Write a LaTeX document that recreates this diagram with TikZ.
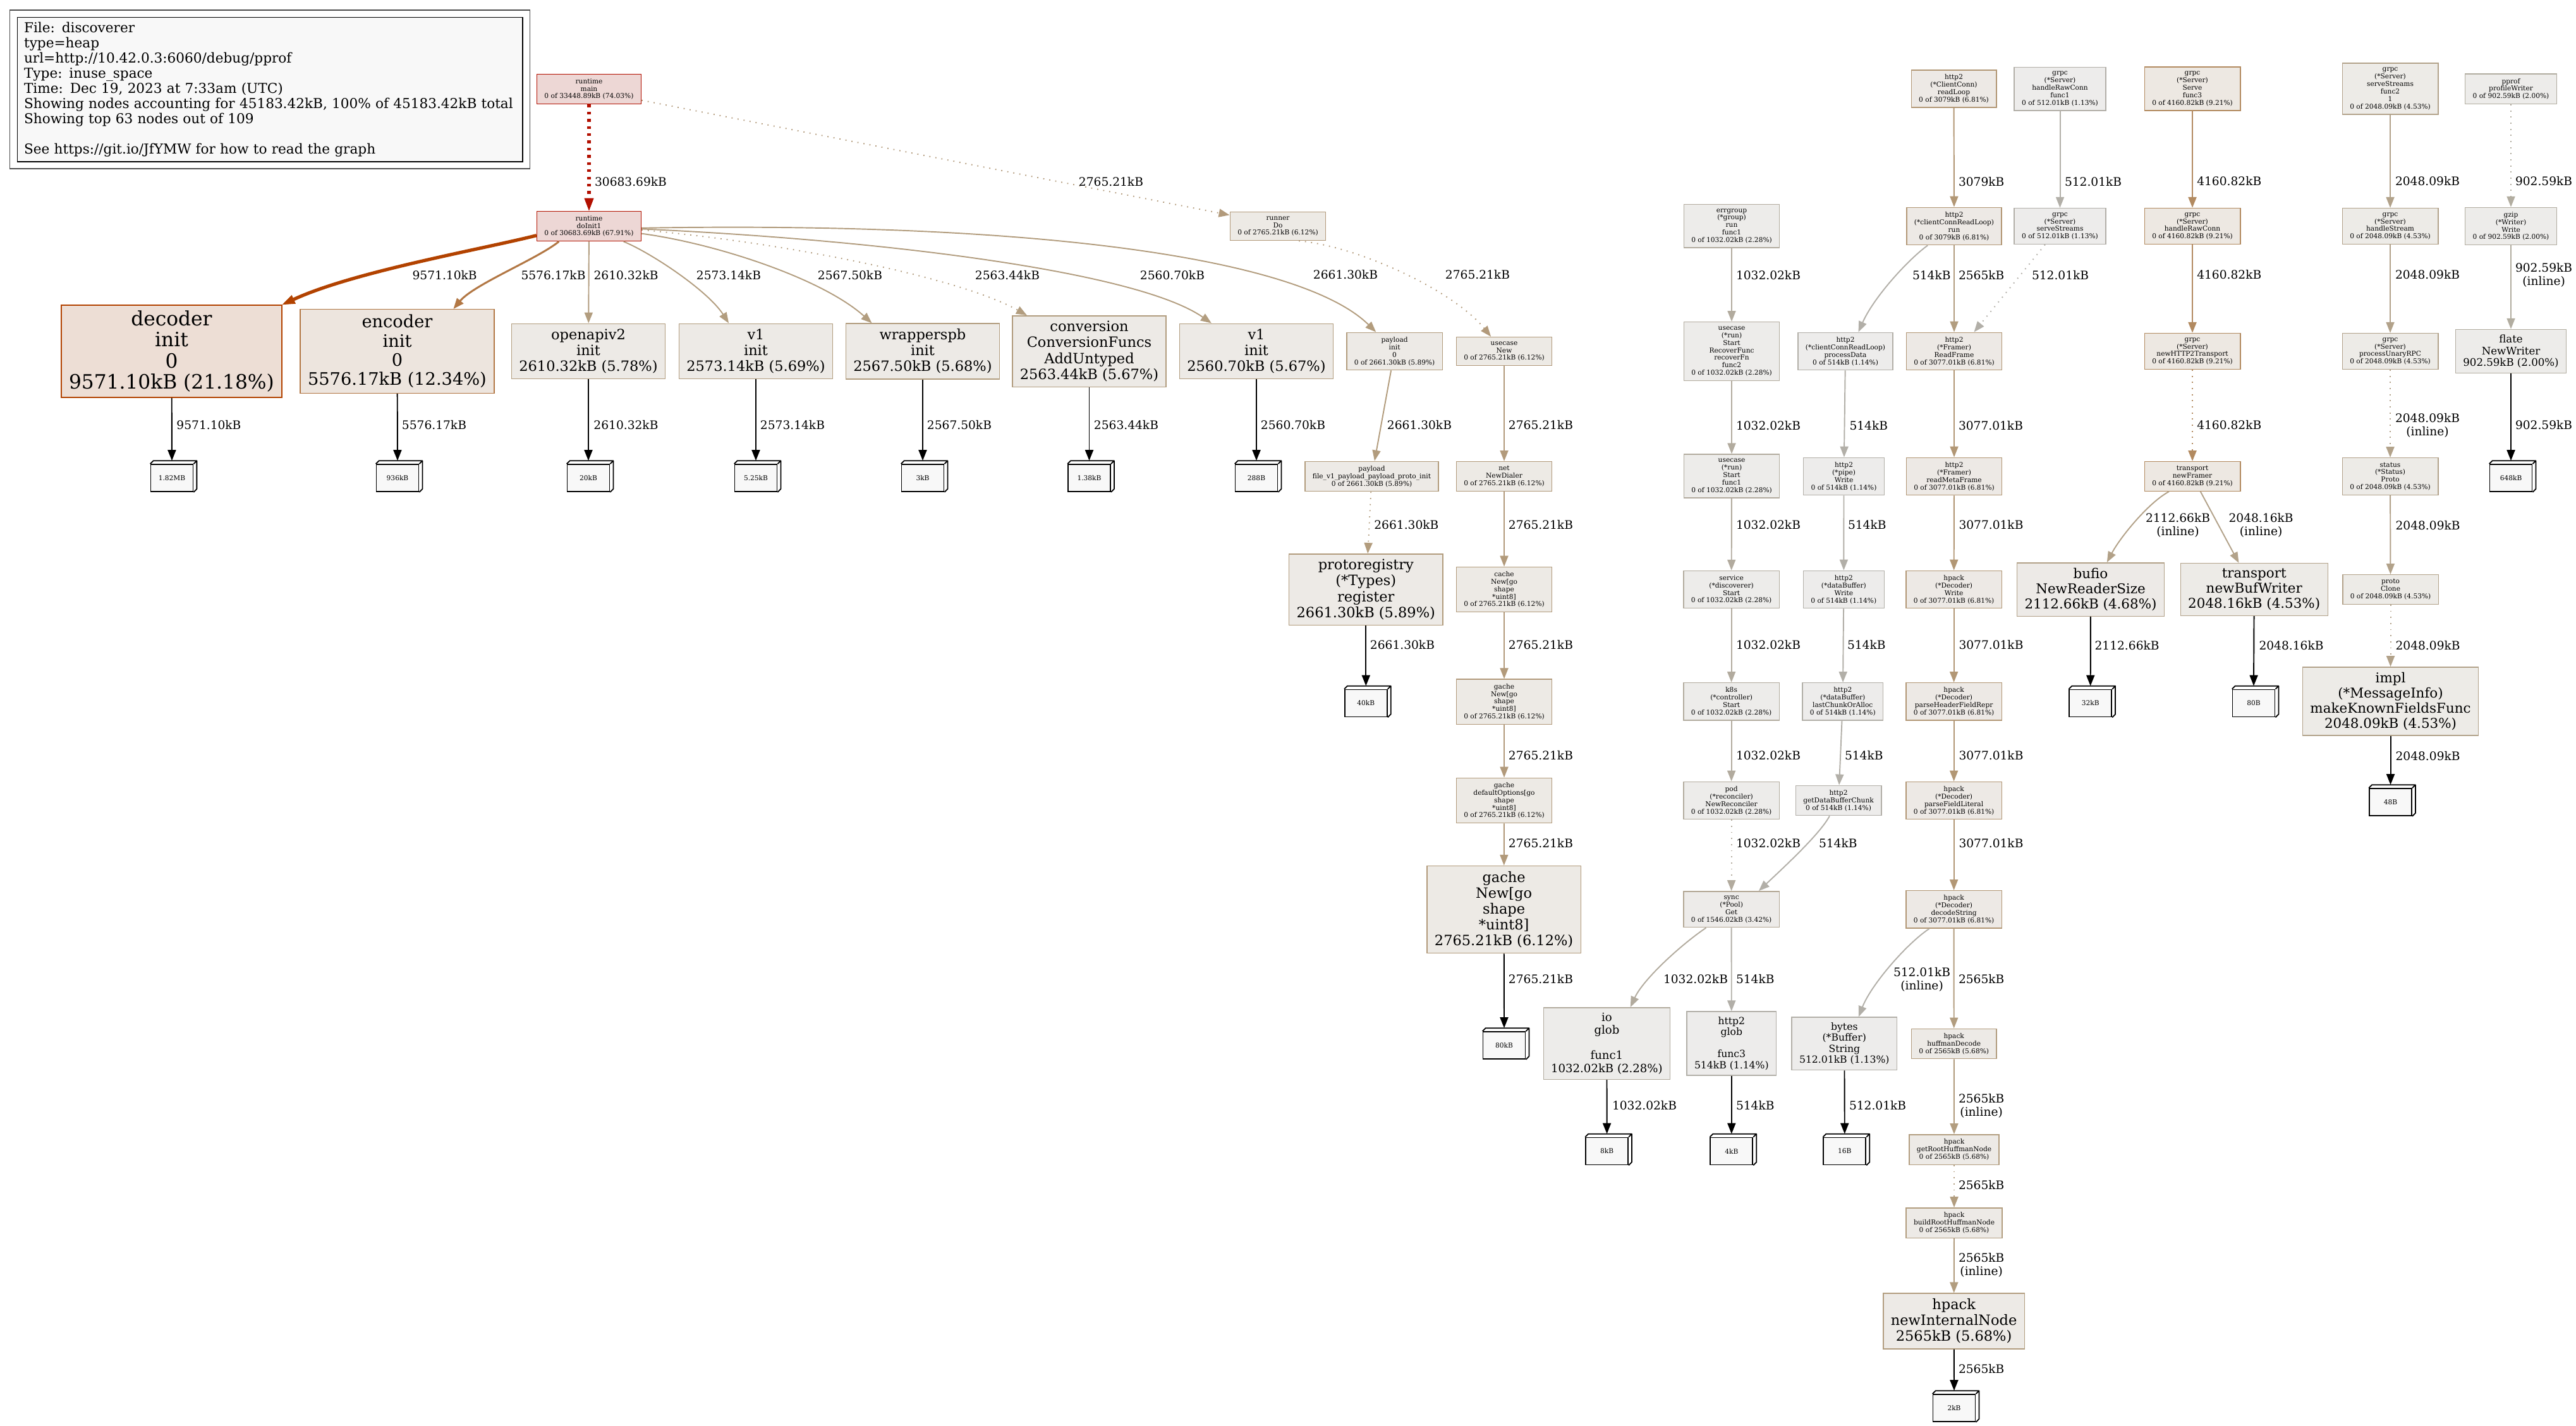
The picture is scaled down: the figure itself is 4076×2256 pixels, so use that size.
\documentclass[tikz,border=0pt]{standalone}
\usepackage{fontspec}
\setmainfont{DejaVu Serif}
\usetikzlibrary{arrows.meta, positioning, calc}

\newcommand{\szSmall}{\fontsize{6.05}{6.75}\selectfont}
\newcommand{\szLbl}{\fontsize{10.6}{11.85}\selectfont}
\newcommand{\szLegend}{\fontsize{12.3}{13.7}\selectfont}
\newcommand{\szDec}{\fontsize{17.8}{19.1}\selectfont}
\newcommand{\szEnc}{\fontsize{15.5}{17.2}\selectfont}
\newcommand{\szBig}{\fontsize{12.8}{14.3}\selectfont}
\newcommand{\szMid}{\fontsize{12.2}{13.6}\selectfont}
\newcommand{\szIo}{\fontsize{10.3}{11.45}\selectfont}
\newcommand{\szFlate}{\fontsize{9.45}{10.5}\selectfont}
\newcommand{\szTiny}{\fontsize{8.9}{9.9}\selectfont}

\definecolor{cMain}{HTML}{B20F00}
\definecolor{fMain}{HTML}{EDD7D5}
\definecolor{cInit}{HTML}{B21300}
\definecolor{cDec}{HTML}{B24200}
\definecolor{fDec}{HTML}{EDDED5}
\definecolor{cEnc}{HTML}{B27744}
\definecolor{fEnc}{HTML}{EDE5DE}
\definecolor{c921}{HTML}{B28A60}
\definecolor{f921}{HTML}{EDE8E2}
\definecolor{c681}{HTML}{B29775}
\definecolor{f681}{HTML}{EDE9E5}
\definecolor{c612}{HTML}{B29A7B}
\definecolor{f612}{HTML}{EDEAE5}
\definecolor{c589}{HTML}{B29C7D}
\definecolor{c57}{HTML}{B29D7F}
\definecolor{f57}{HTML}{EDEAE6}
\definecolor{c468}{HTML}{B2A188}
\definecolor{f468}{HTML}{EDEAE7}
\definecolor{c453}{HTML}{B2A28A}
\definecolor{f453}{HTML}{EDEBE7}
\definecolor{c342}{HTML}{B2A794}
\definecolor{f342}{HTML}{EDEBE9}
\definecolor{c228}{HTML}{B2AB9E}
\definecolor{f228}{HTML}{EDECEA}
\definecolor{c200}{HTML}{B2ADA0}
\definecolor{c114}{HTML}{B2AFA8}
\definecolor{f114}{HTML}{EDECEB}
\definecolor{leafbg}{HTML}{F8F8F8}
\definecolor{legendbg}{HTML}{F8F8F8}
\definecolor{legendframe}{HTML}{4D4D4D}

\tikzset{
  fn/.style={
    rectangle,
    draw,
    align=center,
    inner xsep=0.24cm,
    inner ysep=0.14cm,
    line width=0.8pt,
    font=\szSmall
  },
  fnbig/.style={fn, inner ysep=0.17cm},
  wMain/.style={draw=cMain, fill=fMain},
  wInit/.style={draw=cInit, fill=fMain},
  wDec/.style={draw=cDec, fill=fDec},
  wEnc/.style={draw=cEnc, fill=fEnc},
  w921/.style={draw=c921, fill=f921},
  w681/.style={draw=c681, fill=f681},
  w612/.style={draw=c612, fill=f612},
  w589/.style={draw=c589, fill=f57},
  w57/.style={draw=c57, fill=f57},
  w468/.style={draw=c468, fill=f468},
  w453/.style={draw=c453, fill=f453},
  w342/.style={draw=c342, fill=f342},
  w228/.style={draw=c228, fill=f228},
  w200/.style={draw=c200, fill=f228},
  w114/.style={draw=c114, fill=f114},
  leaf/.style={
    rectangle,
    draw=black,
    fill=leafbg,
    line width=1pt,
    minimum width=1.34cm,
    minimum height=0.86cm,
    inner sep=0pt,
    font=\szSmall,
    append after command={\pgfextra{\draw[line width=1pt, line join=round]
      (\tikzlastnode.north west) -- ++(0.1cm,0.1cm)
      -- ([shift={(0.1cm,0.1cm)}]\tikzlastnode.north east)
      -- ([shift={(0.1cm,0.1cm)}]\tikzlastnode.south east)
      -- (\tikzlastnode.south east)
      (\tikzlastnode.north east) -- ++(0.1cm,0.1cm);}}
  },
  arrow/.style={-{Triangle[length=0.34cm, width=0.26cm]}, line width=1.1pt},
  dotarrow/.style={arrow, dash pattern=on 1pt off 4.5pt},
  leafarrow/.style={arrow, draw=black},
  lbl/.style={anchor=west, inner sep=0pt, align=center, font=\szLbl}
}

\begin{document}
\begin{tikzpicture}[x=0.02cm, y=-0.02cm]
  \useasboundingbox (0,0) rectangle (4076,2256);

  \node[draw=black, fill=legendbg, line width=1pt, anchor=north west,
        minimum width=15.99cm, minimum height=4.57cm, text width=15.57cm,
        inner xsep=0.21cm, align=left, font=\szLegend] (legend) at (26.7,26.7)
  {File: discoverer\\
   type=heap\\
   url=http://10.42.0.3:6060/debug/pprof\\
   Type: inuse\_space\\
   Time: Dec 19, 2023 at 7:33am (UTC)\\
   Showing nodes accounting for 45183.42kB, 100\% of 45183.42kB total\\
   Showing top 63 nodes out of 109\\
   \mbox{}\\
   See https://git.io/JfYMW for how to read the graph};
  \draw[draw=legendframe, line width=1pt]
    ([shift={(-0.226cm,0.22cm)}]legend.north west) rectangle ([shift={(0.212cm,-0.2cm)}]legend.south east);

  \node[fn, wMain] (main) at (932,141) {runtime\\main\\0 of 33448.89kB (74.03\%)};
  \node[fn, wInit] (doinit) at (932,358) {runtime\\doInit1\\0 of 30683.69kB (67.91\%)};
  \node[fn, w612] (runner) at (2022,358) {runner\\Do\\0 of 2765.21kB (6.12\%)};

  \node[fnbig, wDec, font=\szDec] (decoder) at (271.5,556) {decoder\\init\\0\\9571.10kB (21.18\%)};
  \node[fnbig, wEnc, font=\szEnc] (encoder) at (628.5,556) {encoder\\init\\0\\5576.17kB (12.34\%)};
  \node[fnbig, w57, font=\szBig] (openapi) at (931,556) {openapiv2\\init\\2610.32kB (5.78\%)};
  \node[fnbig, w57, font=\szBig] (vonea) at (1196,556) {v1\\init\\2573.14kB (5.69\%)};
  \node[fnbig, w57, font=\szBig] (wrappers) at (1460,556) {wrapperspb\\init\\2567.50kB (5.68\%)};
  \node[fnbig, w57, font=\szBig] (conversion) at (1723.5,556) {conversion\\ConversionFuncs\\AddUntyped\\2563.44kB (5.67\%)};
  \node[fnbig, w57, font=\szBig] (voneb) at (1988,556) {v1\\init\\2560.70kB (5.67\%)};
  \node[fn, w589] (payloadinit) at (2206.6,556) {payload\\init\\0\\0 of 2661.30kB (5.89\%)};
  \node[fn, w612] (usecasenew) at (2380,556) {usecase\\New\\0 of 2765.21kB (6.12\%)};

  \node[leaf] (lfdec) at (272,756.5) {1.82MB};
  \node[leaf] (lfenc) at (629,756.5) {936kB};
  \node[leaf] (lfopen) at (931,756.5) {20kB};
  \node[leaf] (lfvonea) at (1196,756.5) {5.25kB};
  \node[leaf] (lfwrap) at (1460,756.5) {3kB};
  \node[leaf] (lfconv) at (1723.5,756.5) {1.38kB};
  \node[leaf] (lfvoneb) at (1988,756.5) {288B};

  \node[fn, w589] (payloadfile) at (2170.5,754) {payload\\file\_v1\_payload\_payload\_proto\_init\\0 of 2661.30kB (5.89\%)};
  \node[fn, w612] (netdialer) at (2380,754) {net\\NewDialer\\0 of 2765.21kB (6.12\%)};
  \node[fnbig, w589, font=\szBig] (protoreg) at (2161.3,933) {protoregistry\\(*Types)\\register\\2661.30kB (5.89\%)};
  \node[fn, w612] (cachenew) at (2380,933) {cache\\New[go\\shape\\{}*uint8]\\0 of 2765.21kB (6.12\%)};
  \node[leaf] (lfproto) at (2161.3,1113) {40kB};
  \node[fn, w612] (gachenew) at (2380,1110.7) {gache\\New[go\\shape\\{}*uint8]\\0 of 2765.21kB (6.12\%)};
  \node[fn, w612] (gacheopts) at (2380,1267) {gache\\defaultOptions[go\\shape\\{}*uint8]\\0 of 2765.21kB (6.12\%)};
  \node[fnbig, w612, font=\szBig] (gachebig) at (2379.6,1439.5) {gache\\New[go\\shape\\{}*uint8]\\2765.21kB (6.12\%)};
  \node[leaf] (lfgache) at (2380,1654.5) {80kB};

  \node[fn, w228] (errgroup) at (2740,357.7) {errgroup\\(*group)\\run\\func1\\0 of 1032.02kB (2.28\%)};
  \node[fn, w228] (recoverfn) at (2740,556) {usecase\\(*run)\\Start\\RecoverFunc\\recoverFn\\func2\\0 of 1032.02kB (2.28\%)};
  \node[fn, w228] (runstart) at (2740,753.5) {usecase\\(*run)\\Start\\func1\\0 of 1032.02kB (2.28\%)};
  \node[fn, w228] (service) at (2739.6,933) {service\\(*discoverer)\\Start\\0 of 1032.02kB (2.28\%)};
  \node[fn, w228] (k8s) at (2739.6,1110.4) {k8s\\(*controller)\\Start\\0 of 1032.02kB (2.28\%)};
  \node[fn, w228] (pod) at (2739.6,1267) {pod\\(*reconciler)\\NewReconciler\\0 of 1032.02kB (2.28\%)};
  \node[fn, w342] (syncget) at (2739.6,1439.3) {sync\\(*Pool)\\Get\\0 of 1546.02kB (3.42\%)};
  \node[fnbig, w228, font=\szIo] (ioglob) at (2542.4,1651.6) {io\\glob\\\mbox{}\\func1\\1032.02kB (2.28\%)};
  \node[fnbig, w114, font=\szTiny] (httpglob) at (2739.8,1651.6) {http2\\glob\\\mbox{}\\func3\\514kB (1.14\%)};
  \node[leaf] (lfeight) at (2542.6,1822) {8kB};
  \node[leaf] (lffour) at (2739.8,1822) {4kB};

  \node[fn, w681] (readloop) at (3091.5,140.5) {http2\\(*ClientConn)\\readLoop\\0 of 3079kB (6.81\%)};
  \node[fn, w681] (connrun) at (3092,358) {http2\\(*clientConnReadLoop)\\run\\0 of 3079kB (6.81\%)};
  \node[fn, w114] (processdata) at (2920,556) {http2\\(*clientConnReadLoop)\\processData\\0 of 514kB (1.14\%)};
  \node[fn, w114] (pipewrite) at (2917.5,754) {http2\\(*pipe)\\Write\\0 of 514kB (1.14\%)};
  \node[fn, w114] (bufwrite) at (2917.3,933) {http2\\(*dataBuffer)\\Write\\0 of 514kB (1.14\%)};
  \node[fn, w114] (lastchunk) at (2915.8,1110.4) {http2\\(*dataBuffer)\\lastChunkOrAlloc\\0 of 514kB (1.14\%)};
  \node[fn, w114] (getchunk) at (2909,1267) {http2\\getDataBufferChunk\\0 of 514kB (1.14\%)};
  \node[fnbig, w114, font=\szTiny] (bytesstr) at (2918.3,1651.8) {bytes\\(*Buffer)\\String\\512.01kB (1.13\%)};
  \node[leaf] (lfsixteen) at (2918.8,1822) {16B};

  \node[fn, w681] (readframe) at (3092,556) {http2\\(*Framer)\\ReadFrame\\0 of 3077.01kB (6.81\%)};
  \node[fn, w681] (readmeta) at (3092,754) {http2\\(*Framer)\\readMetaFrame\\0 of 3077.01kB (6.81\%)};
  \node[fn, w681] (hpwrite) at (3091.6,933) {hpack\\(*Decoder)\\Write\\0 of 3077.01kB (6.81\%)};
  \node[fn, w681] (parserepr) at (3091.6,1110.4) {hpack\\(*Decoder)\\parseHeaderFieldRepr\\0 of 3077.01kB (6.81\%)};
  \node[fn, w681] (parselit) at (3091.6,1267) {hpack\\(*Decoder)\\parseFieldLiteral\\0 of 3077.01kB (6.81\%)};
  \node[fn, w681] (decodestr) at (3091.6,1439.4) {hpack\\(*Decoder)\\decodeString\\0 of 3077.01kB (6.81\%)};
  \node[fn, w57] (huffdec) at (3091.7,1652) {hpack\\huffmanDecode\\0 of 2565kB (5.68\%)};
  \node[fn, w57] (getroot) at (3092,1819.5) {hpack\\getRootHuffmanNode\\0 of 2565kB (5.68\%)};
  \node[fn, w57] (buildroot) at (3092,1935.5) {hpack\\buildRootHuffmanNode\\0 of 2565kB (5.68\%)};
  \node[fnbig, w57, font=\szBig] (newinternal) at (3091.6,2091) {hpack\\newInternalNode\\2565kB (5.68\%)};
  \node[leaf] (lftwo) at (3092,2228.5) {2kB};

  \node[fn, w114] (rawconnfunc) at (3259.5,140.7) {grpc\\(*Server)\\handleRawConn\\func1\\0 of 512.01kB (1.13\%)};
  \node[fn, w114] (servestreams) at (3259.5,358) {grpc\\(*Server)\\serveStreams\\0 of 512.01kB (1.13\%)};

  \node[fn, w921] (servefunc) at (3469,140.5) {grpc\\(*Server)\\Serve\\func3\\0 of 4160.82kB (9.21\%)};
  \node[fn, w921] (rawconn) at (3469,358) {grpc\\(*Server)\\handleRawConn\\0 of 4160.82kB (9.21\%)};
  \node[fn, w921] (newtransport) at (3469,556) {grpc\\(*Server)\\newHTTP2Transport\\0 of 4160.82kB (9.21\%)};
  \node[fn, w921] (newframer) at (3469,754) {transport\\newFramer\\0 of 4160.82kB (9.21\%)};
  \node[fnbig, w468, font=\szMid] (bufio) at (3308,933) {bufio\\NewReaderSize\\2112.66kB (4.68\%)};
  \node[fnbig, w453, font=\szMid] (bufwriter) at (3566.7,933) {transport\\newBufWriter\\2048.16kB (4.53\%)};
  \node[leaf] (lfthirtytwo) at (3307.7,1113) {32kB};
  \node[leaf] (lfeighty) at (3566,1113) {80B};

  \node[fn, w453] (streamsfunc) at (3782,140.5) {grpc\\(*Server)\\serveStreams\\func2\\1\\0 of 2048.09kB (4.53\%)};
  \node[fn, w453] (handlestream) at (3782,358) {grpc\\(*Server)\\handleStream\\0 of 2048.09kB (4.53\%)};
  \node[fn, w453] (unaryrpc) at (3782,556) {grpc\\(*Server)\\processUnaryRPC\\0 of 2048.09kB (4.53\%)};
  \node[fn, w453] (statusproto) at (3782,754) {status\\(*Status)\\Proto\\0 of 2048.09kB (4.53\%)};
  \node[fn, w453] (protoclone) at (3782.5,933) {proto\\Clone\\0 of 2048.09kB (4.53\%)};
  \node[fnbig, w453, font=\szMid] (impl) at (3782.5,1110) {impl\\(*MessageInfo)\\makeKnownFieldsFunc\\2048.09kB (4.53\%)};
  \node[leaf] (lffortyeight) at (3782.5,1269.5) {48B};

  \node[fn, w200] (profwriter) at (3973,140.7) {pprof\\profileWriter\\0 of 902.59kB (2.00\%)};
  \node[fn, w200] (gzipwrite) at (3973,358) {gzip\\(*Writer)\\Write\\0 of 902.59kB (2.00\%)};
  \node[fnbig, w200, font=\szFlate] (flate) at (3973,556) {flate\\NewWriter\\902.59kB (2.00\%)};
  \node[leaf] (lfflate) at (3973,756.5) {648kB};

  \draw[arrow, draw=cMain, line width=3.5pt, dash pattern=on 2.5pt off 4pt,
        -{Triangle[length=0.4cm, width=0.3cm, line width=0.5pt]}]
    (main) -- (doinit) node[lbl] at (938,287.7) {30683.69kB};
  \draw[dotarrow, draw=c612] (main.-12) -- (runner.167) node[lbl] at (1706,287.6) {2765.21kB};
  \draw[arrow, draw=cDec, line width=3pt, -{Triangle[length=0.4cm, width=0.3cm, line width=0.5pt]}]
    (doinit.190) .. controls (760,395) and (560,430) .. (decoder.north east) node[lbl] at (650,435.6) {9571.10kB};
  \draw[arrow, draw=cEnc, line width=1.7pt] (doinit.207) .. controls (850,410) and (750,450) .. (encoder.37) node[lbl] at (823,435.6) {5576.17kB};
  \draw[arrow, draw=c57] (doinit) -- (openapi) node[lbl] at (938.6,435.6) {2610.32kB};
  \draw[arrow, draw=c57] (doinit.-24) .. controls (1030,400) and (1120,460) .. (vonea.134) node[lbl] at (1101,435.6) {2573.14kB};
  \draw[arrow, draw=c57] (doinit.-8) .. controls (1130,385) and (1300,440) .. (wrappers.151) node[lbl] at (1293,435.6) {2567.50kB};
  \draw[dotarrow, draw=c57] (doinit.-4) .. controls (1250,385) and (1520,440) .. (conversion.150) node[lbl] at (1542,435.6) {2563.44kB};
  \draw[arrow, draw=c57] (doinit.-3) .. controls (1400,380) and (1800,430) .. (voneb.148) node[lbl] at (1803,435.6) {2560.70kB};
  \draw[arrow, draw=c589] (doinit.-2) .. controls (1650,350) and (2060,410) .. (payloadinit.134) node[lbl] at (2077,434.7) {2661.30kB};
  \draw[dotarrow, draw=c612] (runner.-35) .. controls (2150,390) and (2300,460) .. (usecasenew.132) node[lbl] at (2286,434.7) {2765.21kB};

  \draw[leafarrow] (decoder) -- ([yshift=0.1cm]lfdec.north) node[lbl] at (278.5,673) {9571.10kB};
  \draw[leafarrow] (encoder) -- ([yshift=0.1cm]lfenc.north) node[lbl] at (635,673) {5576.17kB};
  \draw[leafarrow] (openapi) -- ([yshift=0.1cm]lfopen.north) node[lbl] at (938.5,673) {2610.32kB};
  \draw[leafarrow] (vonea) -- ([yshift=0.1cm]lfvonea.north) node[lbl] at (1202,673) {2573.14kB};
  \draw[leafarrow] (wrappers) -- ([yshift=0.1cm]lfwrap.north) node[lbl] at (1466,673) {2567.50kB};
  \draw[leafarrow] (conversion) -- ([yshift=0.1cm]lfconv.north) node[lbl] at (1730,673) {2563.44kB};
  \draw[leafarrow] (voneb) -- ([yshift=0.1cm]lfvoneb.north) node[lbl] at (1994,673) {2560.70kB};

  \draw[arrow, draw=c589] (payloadinit) -- (payloadfile) node[lbl] at (2194,673) {2661.30kB};
  \draw[arrow, draw=c612] (usecasenew) -- (netdialer) node[lbl] at (2386,673) {2765.21kB};
  \draw[dotarrow, draw=c589] (payloadfile) -- (protoreg) node[lbl] at (2173.4,831) {2661.30kB};
  \draw[arrow, draw=c612] (netdialer) -- (cachenew) node[lbl] at (2386,831) {2765.21kB};
  \draw[leafarrow] (protoreg) -- ([yshift=0.1cm]lfproto.north) node[lbl] at (2167,1021) {2661.30kB};
  \draw[arrow, draw=c612] (cachenew) -- (gachenew) node[lbl] at (2386,1021) {2765.21kB};
  \draw[arrow, draw=c612] (gachenew) -- (gacheopts) node[lbl] at (2386,1196) {2765.21kB};
  \draw[arrow, draw=c612] (gacheopts) -- (gachebig) node[lbl] at (2386,1335) {2765.21kB};
  \draw[leafarrow] (gachebig) -- ([yshift=0.1cm]lfgache.north) node[lbl] at (2386,1550) {2765.21kB};

  \draw[arrow, draw=c228] (errgroup) -- (recoverfn) node[lbl] at (2746,435.8) {1032.02kB};
  \draw[arrow, draw=c228] (recoverfn) -- (runstart) node[lbl] at (2746,673.7) {1032.02kB};
  \draw[arrow, draw=c228] (runstart) -- (service) node[lbl] at (2746,831) {1032.02kB};
  \draw[arrow, draw=c228] (service) -- (k8s) node[lbl] at (2746,1021) {1032.02kB};
  \draw[arrow, draw=c228] (k8s) -- (pod) node[lbl] at (2746,1196) {1032.02kB};
  \draw[dotarrow, draw=c228] (pod) -- (syncget) node[lbl] at (2746,1335) {1032.02kB};
  \draw[arrow, draw=c114] (getchunk.240) .. controls (2880,1320) and (2820,1375) .. (syncget.34) node[lbl] at (2877,1335) {514kB};
  \draw[arrow, draw=c228] (syncget.216) .. controls (2660,1495) and (2600,1550) .. (ioglob.57) node[lbl] at (2631,1550) {1032.02kB};
  \draw[arrow, draw=c114] (syncget) -- (httpglob) node[lbl] at (2746,1550) {514kB};
  \draw[leafarrow] (ioglob) -- ([yshift=0.1cm]lfeight.north) node[lbl] at (2550,1750) {1032.02kB};
  \draw[leafarrow] (httpglob) -- ([yshift=0.1cm]lffour.north) node[lbl] at (2746,1750) {514kB};

  \draw[arrow, draw=c681] (readloop) -- (connrun) node[lbl] at (3098,287.6) {3079kB};
  \draw[arrow, draw=c114] (connrun.216) .. controls (3020,410) and (2965,470) .. (processdata.56) node[lbl] at (3025,435.8) {514kB};
  \draw[arrow, draw=c57] (connrun) -- (readframe) node[lbl] at (3098,435.8) {2565kB};
  \draw[dotarrow, draw=c114] (servestreams.231) -- (readframe.44) node[lbl] at (3214,435.8) {512.01kB};
  \draw[arrow, draw=c114] (rawconnfunc) -- (servestreams) node[lbl] at (3266,287.6) {512.01kB};
  \draw[arrow, draw=c114] (processdata) -- (pipewrite) node[lbl] at (2925.5,673.7) {514kB};
  \draw[arrow, draw=c681] (readframe) -- (readmeta) node[lbl] at (3098,673.7) {3077.01kB};
  \draw[arrow, draw=c114] (pipewrite) -- (bufwrite) node[lbl] at (2923,831) {514kB};
  \draw[arrow, draw=c681] (readmeta) -- (hpwrite) node[lbl] at (3098.5,831) {3077.01kB};
  \draw[arrow, draw=c114] (bufwrite) -- (lastchunk) node[lbl] at (2922,1021) {514kB};
  \draw[arrow, draw=c681] (hpwrite) -- (parserepr) node[lbl] at (3098.5,1021) {3077.01kB};
  \draw[arrow, draw=c114] (lastchunk) -- (getchunk) node[lbl] at (2918,1196) {514kB};
  \draw[arrow, draw=c681] (parserepr) -- (parselit) node[lbl] at (3098.5,1196) {3077.01kB};
  \draw[arrow, draw=c681] (parselit) -- (decodestr) node[lbl] at (3098.5,1335) {3077.01kB};
  \draw[arrow, draw=c114] (decodestr.218) .. controls (3015,1495) and (2960,1560) .. (bytesstr.62) node[lbl] at (2995,1550.5) {512.01kB\\(inline)};
  \draw[arrow, draw=c57] (decodestr) -- (huffdec) node[lbl] at (3098,1550) {2565kB};
  \draw[leafarrow] (bytesstr) -- ([yshift=0.1cm]lfsixteen.north) node[lbl] at (2925,1750) {512.01kB};
  \draw[arrow, draw=c57] (huffdec) -- (getroot) node[lbl] at (3098,1750.5) {2565kB\\(inline)};
  \draw[dotarrow, draw=c57] (getroot) -- (buildroot) node[lbl] at (3098,1876) {2565kB};
  \draw[arrow, draw=c57] (buildroot) -- (newinternal) node[lbl] at (3098,2002.5) {2565kB\\(inline)};
  \draw[leafarrow] (newinternal) -- ([yshift=0.1cm]lftwo.north) node[lbl] at (3098,2167) {2565kB};

  \draw[arrow, draw=c921, line width=1.4pt] (servefunc) -- (rawconn) node[lbl] at (3475,286.6) {4160.82kB};
  \draw[arrow, draw=c921, line width=1.4pt] (rawconn) -- (newtransport) node[lbl] at (3475,435) {4160.82kB};
  \draw[dotarrow, draw=c921, line width=1.4pt] (newtransport) -- (newframer) node[lbl] at (3475,673) {4160.82kB};
  \draw[arrow, draw=c468] (newframer.213) .. controls (3400,795) and (3355,850) .. (bufio.59) node[lbl] at (3394,831.7) {2112.66kB\\(inline)};
  \draw[arrow, draw=c453] (newframer.-62) -- (bufwriter.120) node[lbl] at (3525.6,831.7) {2048.16kB\\(inline)};
  \draw[leafarrow] (bufio) -- ([yshift=0.1cm]lfthirtytwo.north) node[lbl] at (3313.6,1021.4) {2112.66kB};
  \draw[leafarrow] (bufwriter) -- ([yshift=0.1cm]lfeighty.north) node[lbl] at (3573.5,1021.4) {2048.16kB};

  \draw[arrow, draw=c453] (streamsfunc) -- (handlestream) node[lbl] at (3789,286.6) {2048.09kB};
  \draw[arrow, draw=c453] (handlestream) -- (unaryrpc) node[lbl] at (3789,435) {2048.09kB};
  \draw[dotarrow, draw=c453] (unaryrpc) -- (statusproto) node[lbl] at (3789,673.3) {2048.09kB\\(inline)};
  \draw[arrow, draw=c453] (statusproto) -- (protoclone) node[lbl] at (3789.6,831.7) {2048.09kB};
  \draw[dotarrow, draw=c453] (protoclone) -- (impl) node[lbl] at (3789.6,1021.4) {2048.09kB};
  \draw[leafarrow] (impl) -- ([yshift=0.1cm]lffortyeight.north) node[lbl] at (3789.6,1196.4) {2048.09kB};

  \draw[dotarrow, draw=c200] (profwriter) -- (gzipwrite) node[lbl] at (3979,286.6) {902.59kB};
  \draw[arrow, draw=c200] (gzipwrite) -- (flate) node[lbl] at (3979,435) {902.59kB\\(inline)};
  \draw[leafarrow] (flate) -- ([yshift=0.1cm]lfflate.north) node[lbl] at (3979,673) {902.59kB};
\end{tikzpicture}
\end{document}
